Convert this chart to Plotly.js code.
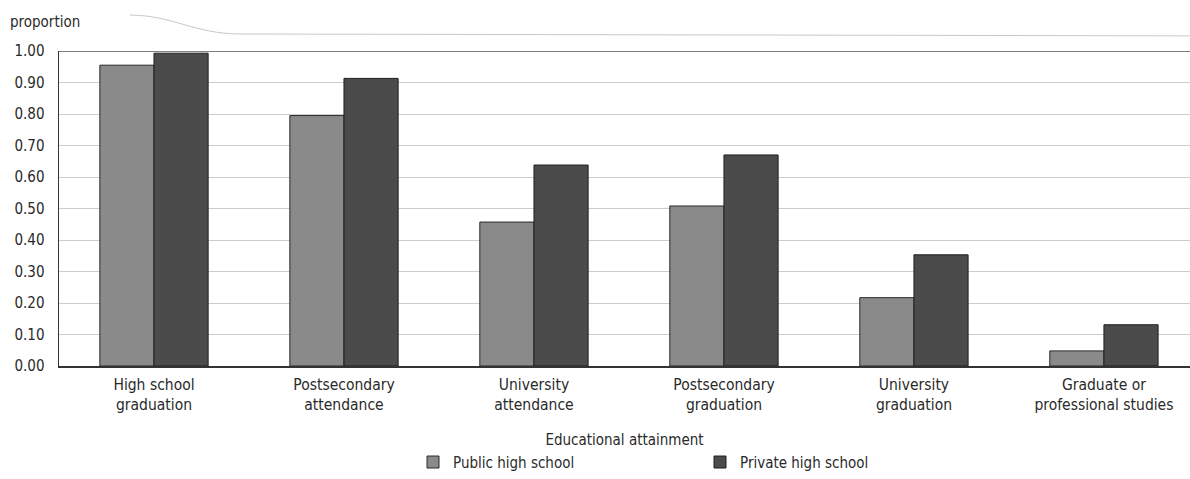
<!DOCTYPE html>
<html>
<head>
<meta charset="utf-8">
<script src="https://cdn.plot.ly/plotly-3.0.1.min.js"></script>
<style>html,body{margin:0;padding:0;background:#fff;}#chart{width:1190px;height:479px;}</style>
</head>
<body>
<div id="chart"></div>
<script>
const categories = [
  "High school<br>graduation",
  "Postsecondary<br>attendance",
  "University<br>attendance",
  "Postsecondary<br>graduation",
  "University<br>graduation",
  "Graduate or<br>professional studies"
];
const publicValues = [0.955, 0.795, 0.457, 0.508, 0.217, 0.048];
const privateValues = [0.993, 0.913, 0.638, 0.670, 0.353, 0.131];
const yTickVals = [0, 0.1, 0.2, 0.3, 0.4, 0.5, 0.6, 0.7, 0.8, 0.9, 1.0];
const yTickText = ["0.00","0.10","0.20","0.30","0.40","0.50","0.60","0.70","0.80","0.90","1.00"];

const FONT = '"Liberation Sans Narrow", "DejaVu Sans Condensed", "Roboto", sans-serif';

const traces = [
  {
    type: 'bar', name: 'Public high school', x: categories, y: publicValues,
    marker: {color: '#8a8a8a', line: {color: '#2a2a2a', width: 1}}
  },
  {
    type: 'bar', name: 'Private high school', x: categories, y: privateValues,
    marker: {color: '#4b4b4b', line: {color: '#1f1f1f', width: 1}}
  }
];

const layout = {
  width: 1190, height: 479,
  margin: {l: 59, r: 0, t: 51, b: 113},
  paper_bgcolor: '#fff', plot_bgcolor: '#fff',
  font: {family: FONT, size: 15, color: '#2a2a2a'},
  barmode: 'group', bargap: 0.43, bargroupgap: 0,
  showlegend: true,
  legend: {
    orientation: 'h', x: 0.313, xanchor: 'left', y: -0.358, yanchor: 'bottom',
    entrywidth: 242, entrywidthmode: 'pixels',
    font: {family: FONT, size: 15, color: '#2a2a2a'},
    traceorder: 'normal'
  },
  xaxis: {
    type: 'category', range: [-0.5, 5.453],
    showgrid: false, showline: true, linecolor: '#333', linewidth: 1.5,
    ticks: '', ticklabelstandoff: 4,
    tickfont: {family: FONT, size: 15.5, color: '#2a2a2a'},
    title: {text: 'Educational attainment', font: {family: FONT, size: 15, color: '#2a2a2a'}, standoff: 21},
    automargin: false, fixedrange: true
  },
  yaxis: {
    range: [0, 1.0], tickvals: yTickVals, ticktext: yTickText,
    showgrid: true, gridcolor: '#cdcdcd', gridwidth: 1,
    showline: true, linecolor: '#333', linewidth: 1.5,
    zeroline: false, ticks: '', ticklabelstandoff: 10,
    tickfont: {family: FONT, size: 15, color: '#2a2a2a'},
    automargin: false, fixedrange: true
  },
  shapes: [
    {type: 'line', xref: 'paper', yref: 'y', x0: 0, x1: 1, y0: 1, y1: 1, line: {color: '#555', width: 1.5}},
    {type: 'path', xref: 'paper', yref: 'paper',
     path: 'M 0.0628 1.114 C 0.10 1.114 0.12 1.054 0.16 1.054 L 1.0 1.048',
     line: {color: '#c8c8c8', width: 1}}
  ],
  annotations: [
    {text: 'proportion', xref: 'paper', yref: 'paper', x: -0.045, y: 1.092, xanchor: 'left', yanchor: 'middle', showarrow: false, font: {family: FONT, size: 15, color: '#2a2a2a'}}
  ]
};

Plotly.newPlot('chart', traces, layout, {displayModeBar: false, staticPlot: true});
</script>
</body>
</html>
